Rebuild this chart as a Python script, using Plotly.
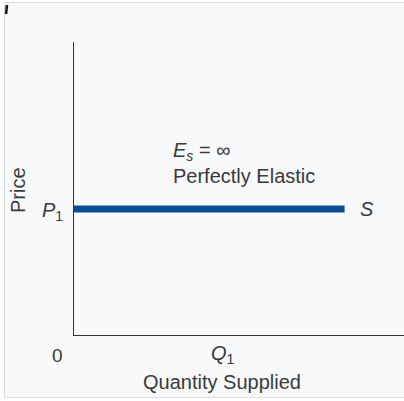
import plotly.graph_objects as go

# ---- data ----
price_level = 4.3            # P1
quantity_range = [0, 8.2]    # extent of the horizontal supply curve
q1_value = 4.5               # Q1 label position
y_tick_labels = ["<i>P</i><sub>1</sub>"]
x_tick_labels = ["<i>Q</i><sub>1</sub>"]
curve_label = "<i>S</i>"
elasticity_text = "<i>E<sub>s</sub></i> = ∞<br>Perfectly Elastic"
x_title = "Quantity Supplied"
y_title = "Price"

W, H = 404, 401
L, R, T, B = 74, 0, 42, 66
PW, PH = W - L - R, H - T - B

def px(x):  # pixel x -> paper
    return (x - L) / PW

def py(y):  # pixel y -> paper
    return (H - B - y) / PH

FONT = "Liberation Sans, Arial, Helvetica, sans-serif"
TXT = "#3a3a3a"
FS = 20

fig = go.Figure()
fig.add_trace(go.Scatter(
    x=quantity_range, y=[price_level, price_level], mode="lines",
    line=dict(color="#0a4f96", width=7), hoverinfo="skip", showlegend=False))

shapes = [
    dict(type="rect", xref="paper", yref="paper", x0=px(4.5), x1=px(410), y0=py(2.5), y1=py(397.5),
         line=dict(color="#dcdcdc", width=1), fillcolor="#f8f9fb", layer="below"),
    dict(type="line", xref="paper", yref="paper", x0=px(7), x1=px(6), y0=py(5), y1=py(14),
         line=dict(color="#111", width=2.5)),
]

annotations = [
    dict(x=0, xref="paper", y=price_level, yref="y", text=y_tick_labels[0], showarrow=False,
         xanchor="right", xshift=-9, yshift=-2, font=dict(size=FS, color=TXT, family=FONT)),
    dict(x=q1_value, xref="x", y=py(354), yref="paper", text=x_tick_labels[0], showarrow=False,
         xanchor="center", yanchor="middle", font=dict(size=FS, color=TXT, family=FONT)),
    dict(x=px(57), xref="paper", y=py(355), yref="paper", text="0", showarrow=False,
         xanchor="center", yanchor="middle", font=dict(size=FS - 1, color=TXT, family=FONT)),
    dict(x=px(222), xref="paper", y=py(382), yref="paper", text=x_title, showarrow=False,
         xanchor="center", yanchor="middle", font=dict(size=FS, color=TXT, family=FONT)),
    dict(x=px(18), xref="paper", y=py(190), yref="paper", text=y_title, showarrow=False,
         textangle=-90, xanchor="center", yanchor="middle", font=dict(size=FS, color=TXT, family=FONT)),
    dict(x=quantity_range[1], xref="x", y=price_level, yref="y", text=curve_label, showarrow=False,
         xanchor="left", xshift=13, font=dict(size=FS, color=TXT, family=FONT)),
    dict(x=px(171), xref="paper", y=py(163), yref="paper", text=elasticity_text, showarrow=False,
         xanchor="left", yanchor="middle", align="left", font=dict(size=FS, color=TXT, family=FONT)),
]

fig.update_layout(
    width=W, height=H, margin=dict(l=L, r=R, t=T, b=B),
    paper_bgcolor="white", plot_bgcolor="rgba(0,0,0,0)",
    shapes=shapes, annotations=annotations,
    xaxis=dict(range=[0, 10], showgrid=False, zeroline=False, showticklabels=False, ticks="",
               showline=True, linecolor="#333", linewidth=1.2, fixedrange=True),
    yaxis=dict(range=[0, 10], showgrid=False, zeroline=False, showticklabels=False, ticks="",
               showline=True, linecolor="#333", linewidth=1.2, fixedrange=True),
)

fig.write_html("out.html", config={"displayModeBar": False},
               post_script="document.body.style.margin='0';document.body.style.padding='0';")
